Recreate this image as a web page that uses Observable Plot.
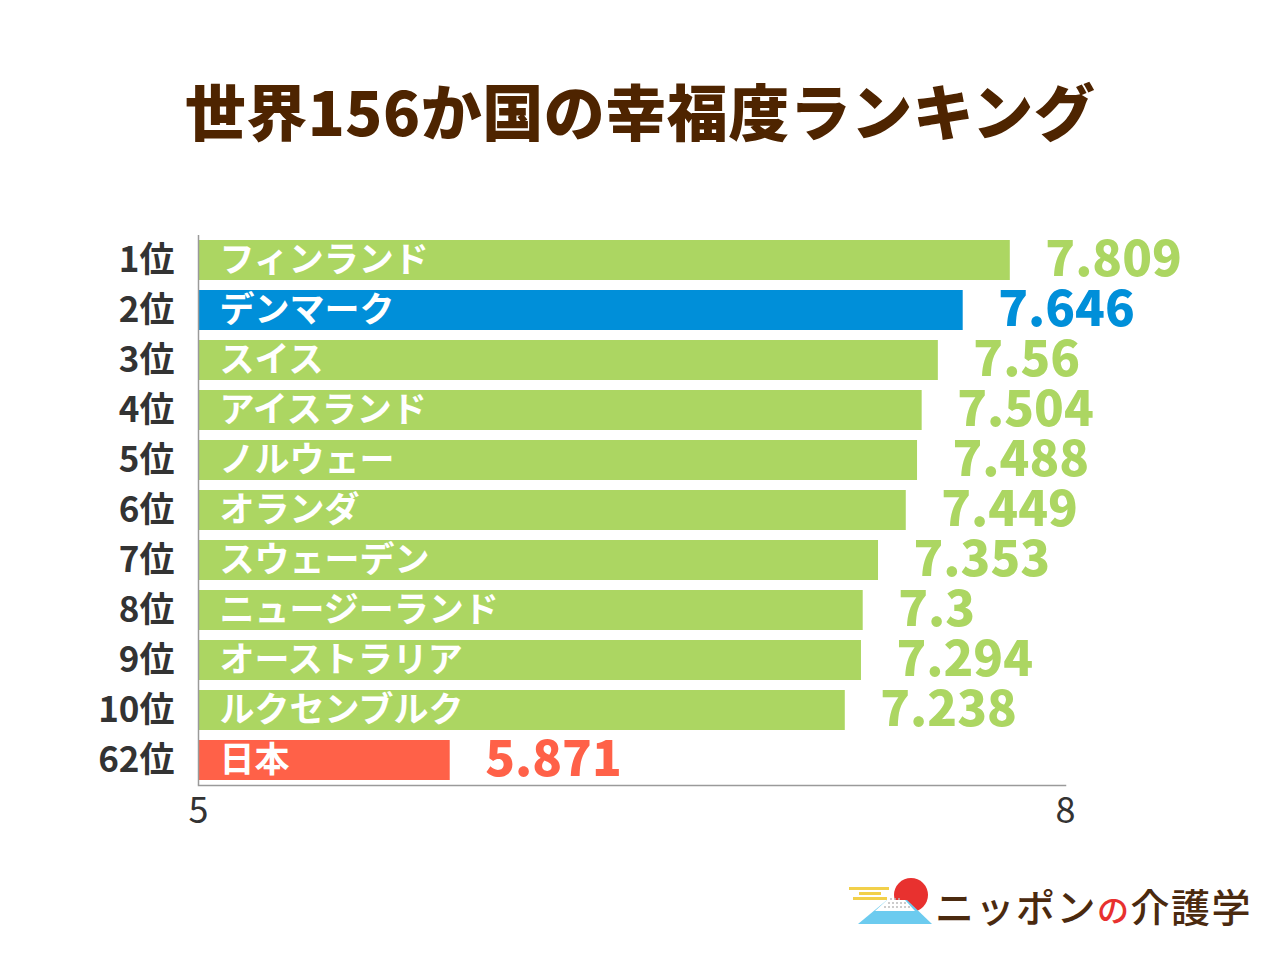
<!DOCTYPE html>
<html>
<head>
<meta charset="utf-8">
<script src="https://cdn.jsdelivr.net/npm/d3@7"></script>
<script src="https://cdn.jsdelivr.net/npm/@observablehq/plot@0.6"></script>
<style>
  html, body { margin: 0; padding: 0; background: #fff; }
  body { width: 1280px; height: 960px; position: relative; overflow: hidden;
         font-family: "Noto Sans CJK JP", "Noto Sans", sans-serif; }
  #title { position: absolute; left: 0; top: 70px; width: 1280px; height: 80px; line-height: 80px;
           text-align: center; font-size: 61px; font-weight: 900; color: #4e2400; letter-spacing: 0.5px; }
  #chart { position: absolute; left: 0; top: 200px; }
  #logo { position: absolute; left: 845px; top: 870px; }
</style>
</head>
<body>
<div id="title">世界156か国の幸福度ランキング</div>
<div id="chart"></div>
<div id="logo">
  <svg width="420" height="64" viewBox="0 0 420 64">
    <g fill="#f2d04a">
      <rect x="4" y="17" width="40" height="3"/>
      <rect x="14" y="22" width="22" height="3"/>
      <rect x="8" y="27" width="34" height="3"/>
    </g>
    <circle cx="66" cy="25" r="17" fill="#e8312f"/>
    <polygon points="13,54 87,54 62,30 42,30" fill="#6ccbef"/>
    <polygon points="42,30 60,30 70,41 30,41" fill="#ffffff"/>
    <g fill="#bbbbbb">
      <circle cx="44" cy="33" r="1"/><circle cx="48" cy="33" r="1"/><circle cx="52" cy="33" r="1"/><circle cx="56" cy="33" r="1"/><circle cx="60" cy="33" r="1"/>
      <circle cx="40" cy="37" r="1"/><circle cx="44" cy="37" r="1"/><circle cx="48" cy="37" r="1"/><circle cx="52" cy="37" r="1"/><circle cx="56" cy="37" r="1"/><circle cx="60" cy="37" r="1"/><circle cx="64" cy="37" r="1"/>
      <circle cx="46" cy="29" r="1"/><circle cx="50" cy="29" r="1"/><circle cx="54" cy="29" r="1"/>
    </g>
    <text x="90" y="52" font-family="'Noto Sans CJK JP', sans-serif" font-size="39" font-weight="500" fill="#4b2a0f" letter-spacing="1.5">ニッポン<tspan fill="#e8312f" font-size="32">の</tspan>介護学</text>
  </svg>
</div>
<script>
const ranks = ["1位","2位","3位","4位","5位","6位","7位","8位","9位","10位","62位"];
const countries = ["フィンランド","デンマーク","スイス","アイスランド","ノルウェー","オランダ","スウェーデン","ニュージーランド","オーストラリア","ルクセンブルク","日本"];
const scores = [7.809, 7.646, 7.56, 7.504, 7.488, 7.449, 7.353, 7.3, 7.294, 7.238, 5.871];
const groups = ["top","denmark","top","top","top","top","top","top","top","top","japan"];
const groupNames = ["top","denmark","japan"];
const groupColors = ["#acd662","#008fd9","#ff6148"];
const xTicks = [5, 8];

const data = ranks.map((r, i) => ({rank: r, country: countries[i], score: scores[i], group: groups[i]}));

const plot = Plot.plot({
  width: 1280,
  height: 650,
  marginLeft: 198,
  marginRight: 215,
  marginTop: 35,
  marginBottom: 65,
  style: {fontFamily: "'Noto Sans CJK JP', 'Noto Sans', sans-serif", background: "transparent"},
  x: {domain: [5, 8], ticks: xTicks, label: null},
  y: {domain: ranks, paddingInner: 0.2, paddingOuter: 0.1, label: null, axis: null},
  color: {domain: groupNames, range: groupColors},
  marks: [
    Plot.barX(data, {y: "rank", x1: 5, x2: "score", fill: "group"}),
    Plot.ruleX([5], {stroke: "#9a9a9a", strokeWidth: 1.5}),
    Plot.frame({anchor: "bottom", stroke: "#9a9a9a", strokeWidth: 1.5}),
    Plot.text(data, {y: "rank", x: 5, text: "country", dx: 21, textAnchor: "start",
      fill: "#fff", fontSize: 35, fontWeight: 700, letterSpacing: 0.5}),
    Plot.text(data, {y: "rank", x: "score", text: d => String(d.score), dx: 35, textAnchor: "start",
      fill: "group", fontSize: 49, fontWeight: 900, letterSpacing: 4.5}),
    Plot.text(data, {y: "rank", frameAnchor: "left", text: "rank", dx: -24, textAnchor: "end",
      fill: "#333", fontSize: 35, fontWeight: 700, letterSpacing: 3}),
    Plot.axisX({tickSize: 0, tickPadding: 12, fontSize: 36, fill: "#333", label: null, ticks: xTicks, tickFormat: d => String(d)})
  ]
});
document.getElementById("chart").appendChild(plot);
</script>
</body>
</html>
